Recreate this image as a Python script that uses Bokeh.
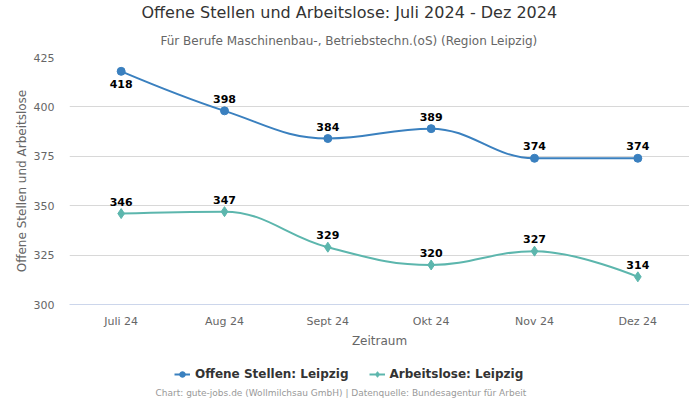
from bokeh.plotting import figure
from bokeh.layouts import column, row
from bokeh.models import (Range1d, FixedTicker, Legend, LegendItem, Title, ColumnDataSource, Spacer)
from bokeh.core.properties import value
from bokeh.embed import file_html
from bokeh.resources import INLINE

categories = ["Juli 24", "Aug 24", "Sept 24", "Okt 24", "Nov 24", "Dez 24"]
offene = [418, 398, 384, 389, 374, 374]
arbeitslose = [346, 347, 329, 320, 327, 314]
y_ticks = [300, 325, 350, 375, 400, 425]

BLUE = "#3a80bf"
TEAL = "#5cb6ad"
FONT = "DejaVu Sans"

xs = [i + 0.5 for i in range(len(categories))]


def spline_segments(x, y, smoothing=1.5):
    n = len(x)
    left = [None] * n
    right = [None] * n
    denom = smoothing + 1
    for i in range(1, n - 1):
        lx, ly = x[i - 1], y[i - 1]
        nx, ny = x[i + 1], y[i + 1]
        px, py = x[i], y[i]
        lcx = (smoothing * px + lx) / denom
        lcy = (smoothing * py + ly) / denom
        rcx = (smoothing * px + nx) / denom
        rcy = (smoothing * py + ny) / denom
        corr = 0
        if rcx != lcx:
            corr = (rcy - lcy) * (rcx - px) / (rcx - lcx) + py - rcy
        lcy += corr
        rcy += corr
        if lcy > ly and lcy > py:
            lcy = max(ly, py)
            rcy = 2 * py - lcy
        elif lcy < ly and lcy < py:
            lcy = min(ly, py)
            rcy = 2 * py - lcy
        if rcy > ny and rcy > py:
            rcy = max(ny, py)
            lcy = 2 * py - rcy
        elif rcy < ny and rcy < py:
            rcy = min(ny, py)
            lcy = 2 * py - rcy
        left[i] = (lcx, lcy)
        right[i] = (rcx, rcy)
    d = dict(x0=[], y0=[], x1=[], y1=[], cx0=[], cy0=[], cx1=[], cy1=[])
    for i in range(n - 1):
        c0 = right[i] if right[i] else (x[i], y[i])
        c1 = left[i + 1] if left[i + 1] else (x[i + 1], y[i + 1])
        d["x0"].append(x[i]); d["y0"].append(y[i])
        d["x1"].append(x[i + 1]); d["y1"].append(y[i + 1])
        d["cx0"].append(c0[0]); d["cy0"].append(c0[1])
        d["cx1"].append(c1[0]); d["cy1"].append(c1[1])
    return ColumnDataSource(d)


p = figure(frame_width=620, frame_height=247, output_backend="svg", toolbar_location=None,
           x_range=Range1d(0, len(categories)), y_range=Range1d(300, 425),
           min_border_left=0, min_border_right=0, min_border_top=0, min_border_bottom=0)
p.outline_line_color = None
p.background_fill_color = "white"
p.border_fill_color = "white"

# axes
p.xaxis.ticker = FixedTicker(ticks=xs)
p.xaxis.major_label_overrides = {x: c for x, c in zip(xs, categories)}
p.xaxis.axis_line_color = "#ccd6eb"
p.xaxis.major_tick_line_color = None
p.xaxis.major_tick_out = 0
p.xaxis.major_tick_in = 0
p.xaxis.minor_tick_line_color = None
p.xaxis.major_label_text_font = FONT
p.xaxis.major_label_text_font_size = "11px"
p.xaxis.major_label_text_color = "#666666"
p.xaxis.major_label_standoff = 10
p.xaxis.axis_label = "Zeitraum"
p.xaxis.axis_label_text_font = FONT
p.xaxis.axis_label_text_font_size = "12px"
p.xaxis.axis_label_text_font_style = "normal"
p.xaxis.axis_label_text_color = "#666666"
p.xaxis.axis_label_standoff = 3

p.yaxis.ticker = FixedTicker(ticks=y_ticks)
p.yaxis.axis_line_color = None
p.yaxis.major_tick_line_color = None
p.yaxis.major_tick_out = 0
p.yaxis.major_tick_in = 0
p.yaxis.minor_tick_line_color = None
p.yaxis.major_label_text_font = FONT
p.yaxis.major_label_text_font_size = "11px"
p.yaxis.major_label_text_color = "#666666"
p.yaxis.major_label_standoff = 15
p.yaxis.axis_label = "Offene Stellen und Arbeitslose"
p.yaxis.axis_label_text_font = FONT
p.yaxis.axis_label_text_font_size = "12px"
p.yaxis.axis_label_text_font_style = "normal"
p.yaxis.axis_label_text_color = "#666666"
p.yaxis.axis_label_standoff = 2

p.xgrid.grid_line_color = None
p.ygrid.grid_line_color = "#d8d8d8"
p.ygrid.ticker = FixedTicker(ticks=y_ticks)

# series
src_o = spline_segments(xs, offene)
src_a = spline_segments(xs, arbeitslose)
p.bezier(x0="x0", y0="y0", x1="x1", y1="y1", cx0="cx0", cy0="cy0", cx1="cx1", cy1="cy1",
         source=src_o, line_color=BLUE, line_width=2)
p.bezier(x0="x0", y0="y0", x1="x1", y1="y1", cx0="cx0", cy0="cy0", cx1="cx1", cy1="cy1",
         source=src_a, line_color=TEAL, line_width=2)
p.scatter(xs, offene, marker="circle", size=8, color=BLUE)
p.scatter(xs, arbeitslose, marker="diamond", size=10, color=TEAL)

# data labels (positive offset = downwards)
off_o = [13 if i == 0 else -12 for i in range(len(offene))]
p.text(x=xs, y=offene, text=[str(v) for v in offene], y_offset=off_o,
       text_align="center", text_baseline="middle", text_font=value(FONT),
       text_font_size="11px", text_font_style="bold", text_color="#000000")
p.text(x=xs, y=arbeitslose, text=[str(v) for v in arbeitslose], y_offset=[-12] * len(arbeitslose),
       text_align="center", text_baseline="middle", text_font=value(FONT),
       text_font_size="11px", text_font_style="bold", text_color="#000000")

sub = Title(text="Für Berufe Maschinenbau-, Betriebstechn.(oS) (Region Leipzig)", align="left",
            text_font=FONT, text_font_size="12px", text_font_style="normal", text_color="#666666",
            standoff=20, offset=91)
p.add_layout(sub, "above")
title = Title(text="Offene Stellen und Arbeitslose: Juli 2024 - Dez 2024", align="left",
              text_font=FONT, text_font_size="16px", text_font_style="normal", text_color="#333333",
              standoff=0, offset=72)
p.add_layout(title, "above")

# legend + footer strip
p2 = figure(frame_width=684, frame_height=34, output_backend="svg", toolbar_location=None,
            x_range=Range1d(0, 1), y_range=Range1d(0, 1),
            min_border=0, min_border_left=0, min_border_right=0, min_border_top=0, min_border_bottom=0)
p2.axis.visible = False
p2.grid.visible = False
p2.outline_line_color = None
p2.background_fill_color = "white"
p2.border_fill_color = "white"
lo = p2.line(x=xs[:1], y=offene[:1], line_color=BLUE, line_width=2)
so = p2.scatter(x=xs[:1], y=offene[:1], marker="circle", size=8, color=BLUE)
la = p2.line(x=xs[:1], y=arbeitslose[:1], line_color=TEAL, line_width=2)
sa = p2.scatter(x=xs[:1], y=arbeitslose[:1], marker="diamond", size=10, color=TEAL)
legend = Legend(items=[LegendItem(label="Offene Stellen: Leipzig", renderers=[lo, so]),
                       LegendItem(label="Arbeitslose: Leipzig", renderers=[la, sa])],
                orientation="horizontal", location=(174, 3),
                label_text_font=FONT, label_text_font_size="12px", label_text_font_style="bold",
                label_text_color="#333333", border_line_color=None, background_fill_alpha=0,
                glyph_width=16, glyph_height=14, label_height=14, spacing=20, margin=0, padding=2)
p2.add_layout(legend, "center")
footer = Title(text="Chart: gute-jobs.de (Wollmilchsau GmbH) | Datenquelle: Bundesagentur für Arbeit",
               align="left", text_font=FONT, text_font_size="9px", text_font_style="normal",
               text_color="#999999", standoff=2, offset=155)
p2.add_layout(footer, "below")

layout = column(row(Spacer(width=11, height=10), p, spacing=0), p2, spacing=0)
open("out.html", "w").write(file_html(layout, INLINE))
